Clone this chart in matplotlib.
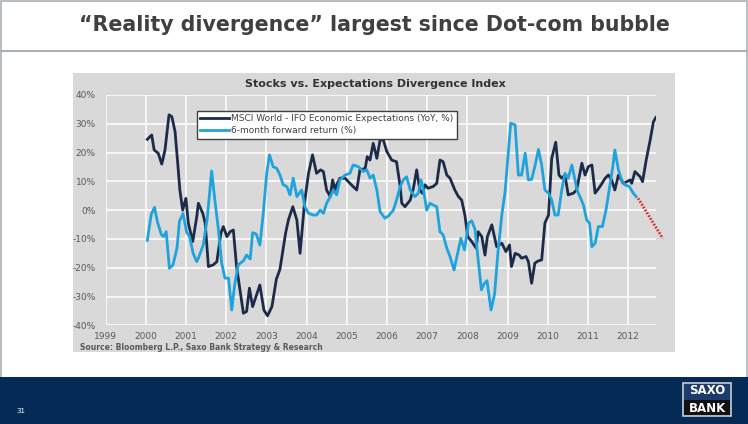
import matplotlib
matplotlib.use("Agg")
import matplotlib.pyplot as plt
from matplotlib.patches import Rectangle
from matplotlib.lines import Line2D

W, H = 748, 424

# MSCI World - IFO Economic Expectations (YoY, %)
msci_x = [2000.04, 2000.15, 2000.21, 2000.31, 2000.40, 2000.48, 2000.58, 2000.65, 2000.73, 2000.79,
          2000.85, 2000.92, 2001.00, 2001.06, 2001.17, 2001.27, 2001.31, 2001.42, 2001.48, 2001.56,
          2001.68, 2001.77, 2001.87, 2001.93, 2002.02, 2002.10, 2002.18, 2002.26, 2002.43, 2002.51,
          2002.58, 2002.66, 2002.84, 2002.94, 2003.03, 2003.14, 2003.25, 2003.34, 2003.48, 2003.55,
          2003.66, 2003.76, 2003.84, 2003.95, 2004.05, 2004.15, 2004.25, 2004.35, 2004.42, 2004.50,
          2004.59, 2004.65, 2004.71, 2004.75, 2004.83, 2004.96, 2005.04, 2005.16, 2005.25, 2005.33,
          2005.46, 2005.51, 2005.58, 2005.66, 2005.75, 2005.83, 2005.91, 2006.00, 2006.12, 2006.24,
          2006.33, 2006.37, 2006.45, 2006.58, 2006.66, 2006.74, 2006.82, 2006.88, 2006.95, 2007.02,
          2007.15, 2007.24, 2007.32, 2007.40, 2007.49, 2007.57, 2007.69, 2007.78, 2007.86, 2007.94,
          2008.01, 2008.11, 2008.22, 2008.27, 2008.36, 2008.44, 2008.50, 2008.61, 2008.73, 2008.86,
          2008.96, 2009.05, 2009.10, 2009.19, 2009.29, 2009.35, 2009.46, 2009.52, 2009.60, 2009.68,
          2009.77, 2009.85, 2009.93, 2010.02, 2010.10, 2010.20, 2010.28, 2010.35, 2010.43, 2010.51,
          2010.64, 2010.72, 2010.85, 2010.93, 2011.01, 2011.10, 2011.18, 2011.30, 2011.43, 2011.51,
          2011.59, 2011.67, 2011.76, 2011.88, 2011.97, 2012.05, 2012.09, 2012.17, 2012.30, 2012.36,
          2012.45, 2012.55, 2012.63, 2012.69]
msci_y = [24.6, 26.1, 20.9, 19.8, 16.0, 20.9, 33.1, 32.5, 27.3, 17.4,
          7.0, 0.0, 4.1, -4.5, -10.9, -2.3, 2.4, -1.1, -4.5, -19.6,
          -19.0, -17.9, -8.0, -5.7, -9.2, -7.5, -6.9, -19.6, -35.8, -35.2,
          -27.1, -33.5, -26.0, -34.7, -36.7, -33.5, -24.0, -20.5, -8.0, -3.4,
          1.2, -3.4, -15.0, 2.4, 12.8, 19.2, 12.8, 14.0, 13.4, 7.0,
          4.7, 10.5, 7.0, 8.8, 11.1, 11.1, 9.9, 8.2, 7.0, 14.0,
          14.5, 18.6, 17.4, 23.2, 18.0, 24.4, 24.4, 20.3, 17.4, 16.8,
          8.2, 2.4, 1.2, 3.5, 7.6, 14.0, 7.0, 5.9, 8.8, 7.6,
          8.2, 9.3, 17.4, 16.8, 12.2, 11.1, 7.0, 4.7, 3.5, -1.7,
          -9.2, -10.9, -13.2, -7.5, -9.2, -15.6, -9.2, -5.1, -12.7, -11.5,
          -14.4, -12.1, -19.6, -15.0, -15.6, -16.7, -16.1, -17.9, -25.4, -18.4,
          -17.6, -17.3, -4.5, -1.7, 18.0, 23.6, 12.2, 11.1, 12.2, 5.3,
          5.9, 7.0, 16.3, 12.2, 15.1, 15.7, 5.9, 8.2, 11.1, 12.2,
          10.5, 7.0, 12.2, 9.3, 9.9, 10.5, 9.3, 13.4, 11.6, 9.9,
          17.4, 24.4, 30.7, 32.2]

# 6-month forward return (%)
fwd_x = [2000.04, 2000.14, 2000.22, 2000.29, 2000.39, 2000.44, 2000.51, 2000.59, 2000.68, 2000.78,
         2000.84, 2000.93, 2001.02, 2001.09, 2001.18, 2001.27, 2001.31, 2001.43, 2001.53, 2001.64,
         2001.72, 2001.81, 2001.89, 2001.97, 2002.06, 2002.14, 2002.21, 2002.30, 2002.43, 2002.51,
         2002.60, 2002.66, 2002.75, 2002.84, 2002.92, 2003.01, 2003.08, 2003.17, 2003.26, 2003.34,
         2003.42, 2003.51, 2003.59, 2003.67, 2003.76, 2003.88, 2003.96, 2004.05, 2004.17, 2004.25,
         2004.34, 2004.42, 2004.50, 2004.59, 2004.67, 2004.75, 2004.83, 2004.96, 2005.08, 2005.16,
         2005.29, 2005.41, 2005.50, 2005.58, 2005.66, 2005.75, 2005.83, 2005.95, 2006.04, 2006.16,
         2006.24, 2006.33, 2006.41, 2006.49, 2006.58, 2006.70, 2006.78, 2006.85, 2006.91, 2006.99,
         2007.07, 2007.15, 2007.24, 2007.32, 2007.40, 2007.49, 2007.57, 2007.67, 2007.76, 2007.84,
         2007.93, 2008.03, 2008.11, 2008.19, 2008.27, 2008.35, 2008.42, 2008.49, 2008.59, 2008.68,
         2008.76, 2008.86, 2008.94, 2009.02, 2009.08, 2009.19, 2009.27, 2009.35, 2009.44, 2009.52,
         2009.60, 2009.68, 2009.77, 2009.85, 2009.93, 2010.02, 2010.10, 2010.18, 2010.26, 2010.35,
         2010.43, 2010.51, 2010.60, 2010.68, 2010.73, 2010.80, 2010.89, 2010.97, 2011.04, 2011.10,
         2011.18, 2011.26, 2011.36, 2011.45, 2011.53, 2011.62, 2011.67, 2011.76, 2011.84, 2011.92,
         2012.03, 2012.13, 2012.20]
fwd_y = [-10.5, -1.4, 1.0, -4.0, -8.5, -9.2, -7.5, -20.2, -19.0, -13.0,
         -3.8, -1.2, -7.8, -9.0, -15.0, -17.9, -16.7, -12.2, -3.0, 13.6,
         3.5, -6.9, -18.4, -23.6, -23.6, -34.7, -26.3, -19.0, -17.6, -15.6,
         -17.0, -7.8, -8.3, -12.1, -1.8, 12.8, 19.2, 15.1, 14.5, 12.2,
         8.8, 8.2, 5.3, 11.1, 4.7, 7.0, 1.2, -1.1, -1.7, -1.7,
         0.0, -1.1, 2.4, 4.7, 7.0, 5.3, 10.5, 12.2, 12.8, 15.7,
         15.1, 13.4, 14.0, 11.1, 12.2, 7.0, -0.5, -2.8, -2.0, 0.0,
         3.5, 8.2, 10.5, 11.6, 7.0, 4.7, 5.9, 10.5, 7.0, 0.0,
         2.4, 1.8, 1.2, -7.5, -8.6, -13.2, -16.1, -20.8, -15.0, -9.8,
         -13.8, -4.5, -3.7, -6.6, -17.0, -27.7, -25.5, -24.5, -34.7, -29.0,
         -15.0, -1.5, 6.4, 19.8, 30.2, 29.6, 12.2, 12.2, 19.8, 10.5,
         10.7, 15.1, 21.1, 15.7, 7.0, 5.9, 3.5, -1.7, -1.7, 7.0,
         12.8, 11.1, 15.7, 10.5, 7.0, 4.7, 1.8, -3.4, -4.5, -12.7,
         -11.5, -5.7, -5.7, 0.0, 7.0, 15.1, 20.9, 14.0, 10.5, 8.8,
         8.2, 5.9, 4.7]

# projected path (red dotted)
proj_x = [2012.25, 2012.86]
proj_y = [4.1, -9.8]

years = list(range(1999, 2013))
pct_ticks = list(range(-40, 41, 10))

title = "\u201cReality divergence\u201d largest since Dot-com bubble"
chart_title = "Stocks vs. Expectations Divergence Index"
labels = ["MSCI World - IFO Economic Expectations (YoY, %)", "6-month forward return (%)"]
source = "Source: Bloomberg L.P., Saxo Bank Strategy & Research"

NAVY = "#1c2b49"
CYAN = "#1ea3dd"
GRID_BG = "#d9d9d9"
TXT = "#595959"


def fx(px):
    return px / W


def fy(py):
    return 1 - py / H


fig = plt.figure(figsize=(W / 100, H / 100), dpi=100)
fig.patch.set_facecolor("white")

# slide frame and title separator
fig.patches.append(Rectangle((fx(1), fy(423)), fx(746), 422 / H, transform=fig.transFigure,
                             fill=False, edgecolor="#a8b0b8", lw=1.2, zorder=-2))
fig.add_artist(Line2D([fx(1), fx(747)], [fy(51), fy(51)], color="#a8b0b8", lw=1.5))
fig.text(0.5, fy(25), title, ha="center", va="center", fontsize=14.8, fontweight="bold", color="#404040")

# grey chart block
fig.patches.append(Rectangle((fx(73), fy(352)), fx(602), 279 / H, transform=fig.transFigure,
                             facecolor=GRID_BG, edgecolor="none", zorder=-1))

ax = fig.add_axes([fx(105.5), fy(325.3), fx(656 - 105.5), (325.3 - 95) / H])
ax.set_zorder(1)
ax.set_facecolor(GRID_BG)
for s in ax.spines.values():
    s.set_visible(False)

ax.set_xlim(1999, 1999 + (656 - 105.5) / 40.2)
ax.set_ylim(-40, 40)
ax.set_xticks(years)
ax.set_xticklabels([str(y) for y in years])
ax.set_yticks(pct_ticks)
ax.set_yticklabels([f"{v}%" for v in pct_ticks])
ax.tick_params(length=0, labelsize=6.5, labelcolor=TXT)
ax.tick_params(axis="y", pad=7)
ax.tick_params(axis="x", pad=5)
ax.grid(True, color="white", lw=1.1)
ax.set_axisbelow(True)

l1, = ax.plot(msci_x, msci_y, color=NAVY, lw=2, label=labels[0])
l2, = ax.plot(fwd_x, fwd_y, color=CYAN, lw=2, label=labels[1])
ax.plot(proj_x, proj_y, color="#e02020", lw=2, linestyle=(0, (0.6, 0.6)), clip_on=False)

fig.text(fx(375), fy(84), chart_title, ha="center", va="center", fontsize=8, fontweight="bold", color="#333333")

leg = fig.legend(handles=[l1, l2], loc="upper left", bbox_to_anchor=(fx(192), fy(106)),
                 fontsize=6.5, frameon=True, fancybox=False, edgecolor="#404040",
                 handlelength=3.2, borderpad=0.4, labelspacing=0.35, handletextpad=0.2)
leg.set_zorder(5)
leg.get_frame().set_linewidth(1)
leg.get_frame().set_alpha(1)
for t in leg.get_texts():
    t.set_color("#404040")

fig.text(fx(80), fy(348), source, ha="left", va="center", fontsize=5.5, fontweight="bold", color=TXT)

# footer band
fig.patches.append(Rectangle((0, 0), 1, fy(377), transform=fig.transFigure,
                             facecolor="#062a56", edgecolor="none"))
fig.text(fx(21), fy(411), "31", ha="center", va="center", fontsize=5, color="white")

# logo
fig.patches.append(Rectangle((fx(683), fy(416)), fx(48), 33 / H, transform=fig.transFigure,
                             facecolor="#1c3a6a", edgecolor="#c8ccd2", lw=1.2))
fig.patches.append(Rectangle((fx(684), fy(415)), fx(46), 15 / H, transform=fig.transFigure,
                             facecolor="#111111", edgecolor="none"))
fig.text(fx(707), fy(391), "SAXO", ha="center", va="center", fontsize=8.5, fontweight="bold", color="white")
fig.text(fx(707), fy(408), "BANK", ha="center", va="center", fontsize=8.5, fontweight="bold", color="white")

fig.savefig("out.png", dpi=100)
